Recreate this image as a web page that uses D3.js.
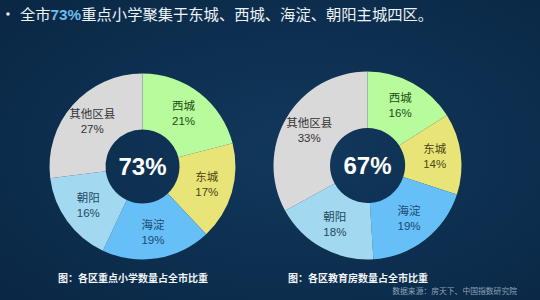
<!DOCTYPE html>
<html>
<head>
<meta charset="utf-8">
<script src="https://cdn.jsdelivr.net/npm/d3@7"></script>
<style>
  html, body { margin: 0; padding: 0; background: #0d2d4c; }
  svg { display: block; font-family: "Noto Sans CJK SC", "Noto Sans", sans-serif; }
</style>
</head>
<body>
<div id="chart"></div>
<script>
// districts, clockwise from 12 o'clock
var districts = ["西城", "东城", "海淀", "朝阳", "其他区县"];
var schoolShare = [21, 17, 19, 16, 27];   // 重点小学
var houseShare  = [16, 14, 19, 18, 33];   // 教育房
var centerLabels = ["73%", "67%"];
var captions = ["图：各区重点小学数量占全市比重", "图：各区教育房数量占全市比重"];

var fills = ["#b8fb9c", "#e9e477", "#66bff6", "#a2d9f0", "#d9d9d9"];
var textColors = ["#214d12", "#4b4512", "#1c4a70", "#23485f", "#333333"];

var W = 540, H = 300;
var svg = d3.select("#chart").append("svg").attr("width", W).attr("height", H);

// background
var defs = svg.append("defs");
var grad = defs.append("radialGradient").attr("id", "bg").attr("cx", "55%").attr("cy", "50%").attr("r", "75%");
grad.append("stop").attr("offset", "0%").attr("stop-color", "#11385c");
grad.append("stop").attr("offset", "100%").attr("stop-color", "#0a2744");
svg.append("rect").attr("width", W).attr("height", H).attr("fill", "url(#bg)");

// title
svg.append("circle").attr("cx", 8).attr("cy", 14).attr("r", 1.8).attr("fill", "#e6edf3");
var title = svg.append("text").attr("x", 20).attr("y", 19.5).attr("font-size", 15.3).attr("fill", "#eef3f7");
title.append("tspan").text("全市");
title.append("tspan").attr("fill", "#6cbcea").attr("font-weight", "bold")
  .attr("font-family", "Liberation Sans, Arial, sans-serif").text("73%");
title.append("tspan").text("重点小学聚集于东城、西城、海淀、朝阳主城四区。");

var pies = [
  {values: schoolShare, cx: 142.5, cy: 166.5, r: 93, ir: 37, center: centerLabels[0], cap: captions[0], capX: 133},
  {values: houseShare,  cx: 367.5, cy: 165.5, r: 94, ir: 37.5, center: centerLabels[1], cap: captions[1], capX: 358}
];

var pie = d3.pie().sort(null).value(function(d){ return d.v; });

pies.forEach(function(p){
  var data = districts.map(function(name, i){ return {name: name, v: p.values[i], i: i}; });
  var arc = d3.arc().innerRadius(p.ir).outerRadius(p.r);
  var labelArc = d3.arc().innerRadius((p.ir + p.r) / 2 + 2).outerRadius((p.ir + p.r) / 2 + 2);
  var g = svg.append("g").attr("transform", "translate(" + p.cx + "," + p.cy + ")");

  g.selectAll("path")
    .data(pie(data))
    .enter()
    .append("path")
    .attr("d", arc)
    .attr("fill", function(d){ return fills[d.data.i]; });

  var lab = g.selectAll("g.lab")
    .data(pie(data))
    .enter()
    .append("g")
    .attr("class", "lab")
    .attr("transform", function(d){ var c = labelArc.centroid(d); return "translate(" + c[0] + "," + c[1] + ")"; });
  lab.append("text")
    .attr("text-anchor", "middle")
    .attr("y", -4)
    .attr("font-size", 11.5)
    .attr("fill", function(d){ return textColors[d.data.i]; })
    .text(function(d){ return d.data.name; });
  lab.append("text")
    .attr("text-anchor", "middle")
    .attr("y", 11)
    .attr("font-size", 11.5)
    .attr("font-family", "Liberation Sans, Arial, sans-serif")
    .attr("fill", function(d){ return textColors[d.data.i]; })
    .text(function(d){ return d.data.v + "%"; });

  g.append("text")
    .attr("text-anchor", "middle")
    .attr("y", 8.5)
    .attr("font-size", 24)
    .attr("font-weight", "bold")
    .attr("font-family", "Liberation Sans, Arial, sans-serif")
    .attr("fill", "#ffffff")
    .text(p.center);

  svg.append("text")
    .attr("x", p.capX).attr("y", 282)
    .attr("text-anchor", "middle")
    .attr("font-size", 10)
    .attr("font-weight", "bold")
    .attr("fill", "#f2f5f8")
    .text(p.cap);
});

svg.append("text")
  .attr("x", 517).attr("y", 294)
  .attr("text-anchor", "end")
  .attr("font-size", 7.8)
  .attr("fill", "#8ea3b7")
  .text("数据来源：房天下、中国指数研究院");
</script>
</body>
</html>
